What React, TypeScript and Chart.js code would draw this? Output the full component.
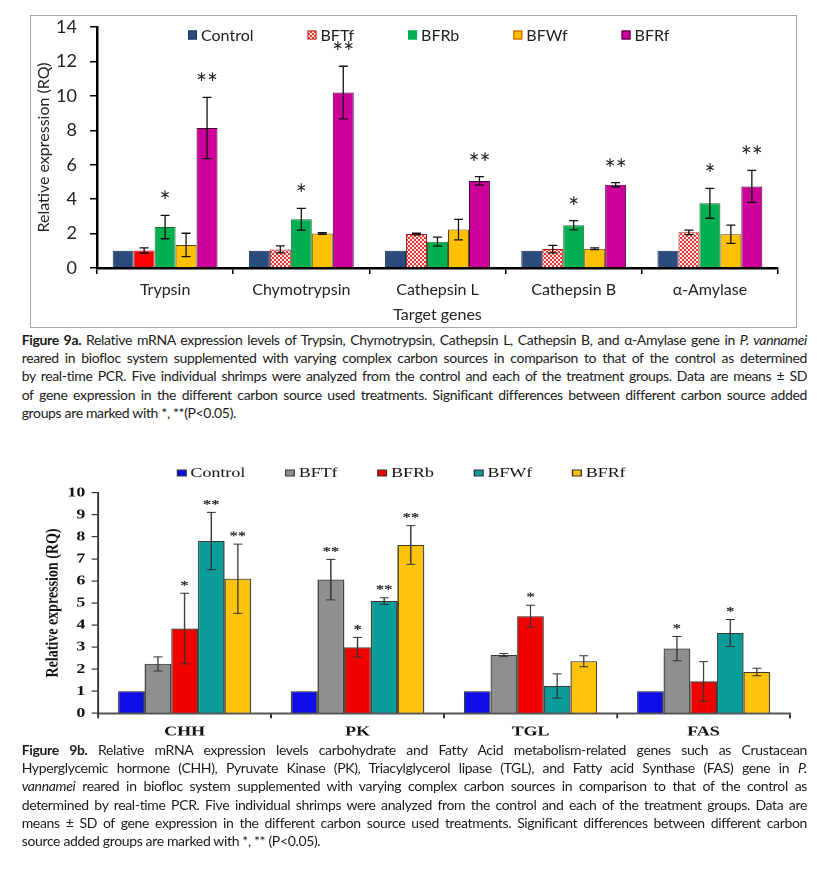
import React, { useEffect, useRef } from "react";
import { Chart, registerables } from "chart.js";

Chart.register(...registerables);

// ---------------- Figure 9a data ----------------
const genesA = ["Trypsin", "Chymotrypsin", "Cathepsin L", "Cathepsin B", "α-Amylase"];
const groupNames = ["Control", "BFTf", "BFRb", "BFWf", "BFRf"];
const yTicksA = [0, 2, 4, 6, 8, 10, 12, 14];
const controlA = [1, 1, 1, 1, 1];
const controlASd = [0, 0, 0, 0, 0];
const bftfA = [1.02, 1.08, 1.97, 1.1, 2.07];
const bftfASd = [0.15, 0.2, 0.05, 0.22, 0.13];
const bfrbA = [2.38, 2.83, 1.53, 2.48, 3.76];
const bfrbASd = [0.68, 0.63, 0.26, 0.27, 0.87];
const bfwfA = [1.34, 2.01, 2.23, 1.12, 1.96];
const bfwfASd = [0.68, 0.05, 0.6, 0.05, 0.53];
const bfrfA = [8.13, 10.19, 5.06, 4.84, 4.74];
const bfrfASd = [1.78, 1.53, 0.25, 0.12, 0.93];
const bfrbASig = ["*", "*", "", "*", "*"];
const bfrfASig = ["**", "**", "**", "**", "**"];

// ---------------- Figure 9b data ----------------
const genesB = ["CHH", "PK", "TGL", "FAS"];
const yTicksB = [0, 1, 2, 3, 4, 5, 6, 7, 8, 9, 10];
const controlB = [1, 1, 1, 1];
const controlBSd = [0, 0, 0, 0];
const bftfB = [2.24, 6.06, 2.64, 2.93];
const bftfBSd = [0.32, 0.92, 0.07, 0.55];
const bfrbB = [3.84, 2.99, 4.4, 1.44];
const bfrbBSd = [1.6, 0.45, 0.5, 0.9];
const bfwfB = [7.81, 5.09, 1.24, 3.64];
const bfwfBSd = [1.3, 0.15, 0.55, 0.61];
const bfrfB = [6.1, 7.63, 2.36, 1.87];
const bfrfBSd = [1.57, 0.88, 0.25, 0.17];
const bftfBSig = ["", "**", "", "*"];
const bfrbBSig = ["*", "*", "*", ""];
const bfwfBSig = ["**", "**", "", "*"];
const bfrfBSig = ["**", "**", "", ""];

const STRETCH_B = 1.28;

const errorBarPlugin = {
  id: "errorBars",
  afterDatasetsDraw(chart: any, _args: any, opts: any) {
    const { ctx } = chart;
    const yScale = chart.scales.y;
    ctx.save();
    chart.data.datasets.forEach((ds: any, di: number) => {
      const meta = chart.getDatasetMeta(di);
      meta.data.forEach((bar: any, i: number) => {
        const v = ds.data[i];
        const e = ds.sd ? ds.sd[i] : 0;
        const x = bar.x;
        const yTop = yScale.getPixelForValue(v + e);
        if (e > 0) {
          const yBot = yScale.getPixelForValue(v - e);
          ctx.strokeStyle = opts.color;
          ctx.lineWidth = opts.lineWidth;
          ctx.beginPath();
          ctx.moveTo(x, yTop);
          ctx.lineTo(x, yBot);
          ctx.moveTo(x - opts.cap / 2, yTop);
          ctx.lineTo(x + opts.cap / 2, yTop);
          ctx.moveTo(x - opts.cap / 2, yBot);
          ctx.lineTo(x + opts.cap / 2, yBot);
          ctx.stroke();
        }
        const s = ds.sig ? ds.sig[i] : "";
        if (s) {
          ctx.fillStyle = opts.starColor;
          ctx.font = opts.starFont;
          ctx.textAlign = "center";
          ctx.textBaseline = "alphabetic";
          ctx.fillText(s, x, yTop - opts.starGap);
        }
      });
    });
    ctx.restore();
  },
};

const boxLegendPlugin = {
  id: "boxLegend",
  afterDraw(chart: any, _args: any, o: any) {
    const ctx = chart.ctx;
    ctx.save();
    ctx.font = o.font;
    ctx.textBaseline = "middle";
    ctx.textAlign = "left";
    let x = o.x;
    chart.data.datasets.forEach((ds: any) => {
      ctx.fillStyle = ds.legendFill || ds.backgroundColor;
      ctx.fillRect(x, o.y - o.boxH / 2, o.boxW, o.boxH);
      ctx.strokeStyle = ds.legendBorder || "#222";
      ctx.lineWidth = 1;
      ctx.strokeRect(x + 0.5, o.y - o.boxH / 2 + 0.5, o.boxW - 1, o.boxH - 1);
      ctx.fillStyle = o.color;
      ctx.fillText(ds.label, x + o.boxW + o.textGap, o.y + 0.5);
      x += o.boxW + o.textGap + ctx.measureText(ds.label).width + o.gap;
    });
    ctx.restore();
  },
};

function makePattern(): CanvasPattern | string {
  const c = document.createElement("canvas");
  c.width = 4;
  c.height = 4;
  const g = c.getContext("2d");
  if (!g) return "#F08080";
  g.fillStyle = "#FBE3E3";
  g.fillRect(0, 0, 4, 4);
  g.fillStyle = "#E23A3A";
  g.fillRect(0, 0, 2, 2);
  g.fillRect(2, 2, 2, 2);
  const p = g.createPattern(c, "repeat");
  return p || "#F08080";
}

const capA = (
  <>
    <div className="jl"><b>Figure 9a.</b> Relative mRNA expression levels of Trypsin, Chymotrypsin, Cathepsin L, Cathepsin B, and α-Amylase gene in <i>P. vannamei</i></div>
    <div className="jl">reared in biofloc system supplemented with varying complex carbon sources in comparison to that of the control as determined</div>
    <div className="jl">by real-time PCR. Five individual shrimps were analyzed from the control and each of the treatment groups. Data are means ± SD</div>
    <div className="jl">of gene expression in the different carbon source used treatments. Significant differences between different carbon source added</div>
    <div className="ll">groups are marked with *, **(P&lt;0.05).</div>
  </>
);

const capB = (
  <>
    <div className="jl"><b>Figure 9b.</b> Relative mRNA expression levels carbohydrate and Fatty Acid metabolism-related genes such as Crustacean</div>
    <div className="jl">Hyperglycemic hormone (CHH), Pyruvate Kinase (PK), Triacylglycerol lipase (TGL), and Fatty acid Synthase (FAS) gene in <i>P.</i></div>
    <div className="jl"><i>vannamei</i> reared in biofloc system supplemented with varying complex carbon sources in comparison to that of the control as</div>
    <div className="jl">determined by real-time PCR. Five individual shrimps were analyzed from the control and each of the treatment groups. Data are</div>
    <div className="jl">means ± SD of gene expression in the different carbon source used treatments. Significant differences between different carbon</div>
    <div className="ll">source added groups are marked with *, ** (P&lt;0.05).</div>
  </>
);

export default function App() {
  const ref1 = useRef<HTMLCanvasElement>(null);
  const ref2 = useRef<HTMLCanvasElement>(null);

  useEffect(() => {
    const pat = makePattern();
    const fontA = "Lato";
    const c1 = new Chart(ref1.current as HTMLCanvasElement, {
      type: "bar",
      data: {
        labels: genesA,
        datasets: [
          { label: groupNames[0], data: controlA, sd: controlASd, backgroundColor: "#2B4C7E", borderColor: "#1A2E4E", borderWidth: 1, legendBorder: "#1A2E4E" },
          { label: groupNames[1], data: bftfA, sd: bftfASd, backgroundColor: ["#FF0000", pat, pat, pat, pat], borderColor: "#B01818", borderWidth: 1, legendFill: pat, legendBorder: "#C02020" },
          { label: groupNames[2], data: bfrbA, sd: bfrbASd, sig: bfrbASig, backgroundColor: "#00B050", borderColor: "#1F6E3C", borderWidth: 1, legendBorder: "#00B050" },
          { label: groupNames[3], data: bfwfA, sd: bfwfASd, backgroundColor: "#FFC000", borderColor: "#5A4300", borderWidth: 1, legendBorder: "#C05000" },
          { label: groupNames[4], data: bfrfA, sd: bfrfASd, sig: bfrfASig, backgroundColor: "#CC0099", borderColor: "#3A0030", borderWidth: 1, legendBorder: "#3A0030" },
        ] as any,
      },
      options: {
        responsive: false,
        animation: false,
        layout: { padding: { top: 12, right: 19, left: 0, bottom: 0 } },
        datasets: { bar: { categoryPercentage: 0.77, barPercentage: 1 } },
        plugins: {
          legend: { display: false },
          tooltip: { enabled: false },
          errorBars: { color: "#111", lineWidth: 1.3, cap: 9, starFont: `26px ${fontA}`, starColor: "#222", starGap: 4 },
          boxLegend: { x: 158, y: 20, boxW: 9, boxH: 9, textGap: 4, gap: 54, font: `16px ${fontA}`, color: "#222" },
        } as any,
        scales: {
          x: {
            grid: { display: true, drawOnChartArea: false, drawTicks: true, tickLength: 6, color: "#000", lineWidth: 1.5, offset: true },
            border: { display: true, color: "#000", width: 2.5 },
            ticks: { font: { family: fontA, size: 16 }, color: "#222", padding: 6 },
            title: { display: true, text: "Target genes", font: { family: fontA, size: 16 }, color: "#222", padding: { top: 0, bottom: 3.5 } },
            afterFit: (s: any) => { s.height = 60; },
          },
          y: {
            min: 0,
            max: 14,
            afterBuildTicks: (s: any) => { s.ticks = yTicksA.map((v) => ({ value: v })); },
            grid: { display: true, drawOnChartArea: false, drawTicks: true, tickLength: 7, color: "#000", lineWidth: 1.5 },
            border: { display: true, color: "#000", width: 2.5 },
            ticks: { font: { family: fontA, size: 18 }, color: "#222", padding: 13 },
            title: { display: true, text: "Relative expression (RQ)", font: { family: fontA, size: 16 }, color: "#222", padding: { top: 4.4, bottom: 0 } },
            afterFit: (s: any) => { s.width = 67; s.paddingTop = 0; s.paddingBottom = 0; },
          },
        },
      } as any,
      plugins: [errorBarPlugin as any, boxLegendPlugin as any],
    });

    const serif = "'Liberation Serif'";
    const bc = "#3a3a30";
    const c2 = new Chart(ref2.current as HTMLCanvasElement, {
      type: "bar",
      data: {
        labels: genesB,
        datasets: [
          { label: groupNames[0], data: controlB, sd: controlBSd, backgroundColor: "#0D0DE8", borderColor: bc, borderWidth: 1, legendBorder: "#333" },
          { label: groupNames[1], data: bftfB, sd: bftfBSd, sig: bftfBSig, backgroundColor: "#8F8F8F", borderColor: bc, borderWidth: 1, legendBorder: "#333" },
          { label: groupNames[2], data: bfrbB, sd: bfrbBSd, sig: bfrbBSig, backgroundColor: "#F20000", borderColor: bc, borderWidth: 1, legendBorder: "#333" },
          { label: groupNames[3], data: bfwfB, sd: bfwfBSd, sig: bfwfBSig, backgroundColor: "#0A9C98", borderColor: bc, borderWidth: 1, legendBorder: "#333" },
          { label: groupNames[4], data: bfrfB, sd: bfrfBSd, sig: bfrfBSig, backgroundColor: "#FFC30B", borderColor: bc, borderWidth: 1, legendBorder: "#333" },
        ] as any,
      },
      options: {
        responsive: false,
        animation: false,
        devicePixelRatio: 2,
        layout: { padding: { top: 37.7, right: 36.8, left: 0, bottom: 0 } },
        datasets: { bar: { categoryPercentage: 0.77, barPercentage: 1 } },
        plugins: {
          legend: { display: false },
          tooltip: { enabled: false },
          errorBars: { color: "#333", lineWidth: 1, cap: 7, starFont: `bold 13px ${serif}`, starColor: "#222", starGap: 4 },
          boxLegend: { x: 138, y: 18, boxW: 7.8, boxH: 7, textGap: 3, gap: 31, font: `14px ${serif}`, color: "#111" },
        } as any,
        scales: {
          x: {
            grid: { display: true, drawOnChartArea: false, drawTicks: true, tickLength: 5, color: "#333", lineWidth: 1.5, offset: true },
            border: { display: true, color: "#555", width: 2 },
            ticks: { font: { family: serif, size: 14, weight: "bold" }, color: "#111", padding: 5 },
            afterFit: (s: any) => { s.height = 31.7; },
          },
          y: {
            min: 0,
            max: 10,
            afterBuildTicks: (s: any) => { s.ticks = yTicksB.map((v) => ({ value: v })); },
            grid: { display: true, drawOnChartArea: false, drawTicks: true, tickLength: 5, color: "#333", lineWidth: 1.2 },
            border: { display: true, color: "#333", width: 1.5 },
            ticks: { font: { family: serif, size: 14, weight: "bold" }, color: "#111", padding: 5 },
            title: { display: true, text: "Relative expression (RQ)", font: { family: serif, size: 14, weight: "bold" }, color: "#111", padding: { top: 33, bottom: 0 } },
            afterFit: (s: any) => { s.width = 76.6; s.paddingTop = 0; s.paddingBottom = 0; },
          },
        },
      } as any,
      plugins: [errorBarPlugin as any, boxLegendPlugin as any],
    });

    return () => {
      c1.destroy();
      c2.destroy();
    };
  }, []);

  const capFont: React.CSSProperties = {
    position: "absolute",
    left: 21.7,
    width: 785.3,
    fontFamily: "Lato, 'Open Sans', sans-serif",
    fontSize: 14,
    color: "#1a1a1a",
    letterSpacing: "-0.35px",
  };

  return (
    <div style={{ position: "absolute", left: 0, top: 0, width: 837, height: 873, background: "#fff", overflow: "hidden" }}>
      <style>{`.jl{ text-align: justify; text-align-last: justify; white-space: nowrap; } .ll{ text-align: left; white-space: nowrap; }`}</style>
      <div style={{ position: "absolute", left: 30, top: 15, width: 767, height: 313, border: "1.5px solid #A6A6A6", boxSizing: "border-box" }} />
      <canvas ref={ref1} width={767} height={313} style={{ position: "absolute", left: 30, top: 15 }} />
      <div style={{ ...capFont, top: 330.9, lineHeight: "18.3px" }}>{capA}</div>
      <canvas
        ref={ref2}
        width={654}
        height={290}
        style={{ position: "absolute", left: 0, top: 455, transform: `scaleX(${STRETCH_B})`, transformOrigin: "0 0" }}
      />
      <div style={{ ...capFont, top: 740.9, lineHeight: "18.2px" }}>{capB}</div>
    </div>
  );
}
